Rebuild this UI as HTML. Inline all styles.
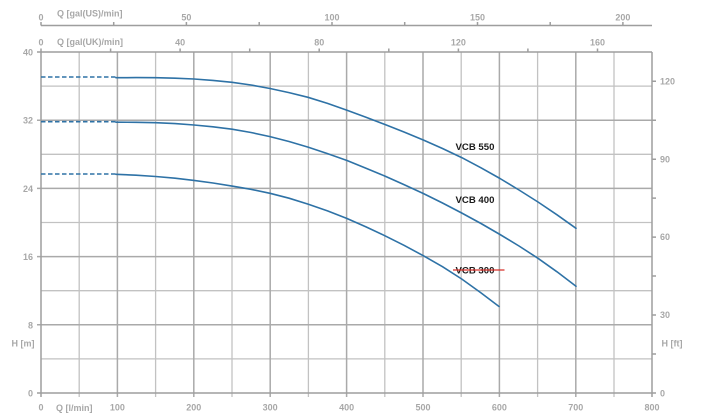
<!DOCTYPE html>
<html><head><meta charset="utf-8"><style>
html,body{margin:0;padding:0;background:#fff;}
svg{display:block;}
text{font-family:"Liberation Sans",Arial,sans-serif;}
.ax{fill:#a8a8a8;font-size:9px;font-weight:bold;}
.lbl{fill:#1a1a1a;font-size:9.6px;font-weight:bold;}
</style></head><body>
<svg width="704" height="420" viewBox="0 0 704 420" xmlns="http://www.w3.org/2000/svg">
<rect width="704" height="420" fill="#fff"/>
<!-- minor grid -->
<g stroke="#c2c2c2" stroke-width="1.3" fill="none">
<path d="M79.2 52V397 M155.6 52V397 M232 52V397 M308.4 52V397 M384.8 52V397 M461.2 52V397 M537.6 52V397 M614 52V397"/>
<path d="M41 358.9H652 M41 290.7H652 M41 222.5H652 M41 154.3H652 M41 86.1H652"/>
</g>
<!-- major grid -->
<g stroke="#aaaaaa" stroke-width="1.5" fill="none">
<path d="M117.4 52V397 M193.8 52V397 M270.2 52V397 M346.6 52V397 M423 52V397 M499.4 52V397 M575.8 52V397"/>
<path d="M37 324.8H652 M37 256.6H652 M37 188.4H652 M37 120.2H652"/>
</g>
<!-- frame -->
<g stroke="#9e9e9e" stroke-width="1.5" fill="none">
<path d="M41 52V397 M37 393H652 M37 52H652 M652 52V397 M37 393H41"/>
<path d="M652 354H656 M652 315H656 M652 276H656 M652 237.1H656 M652 198.1H656 M652 159.2H656 M652 120.2H656 M652 81.2H656 M652 393H656"/>
<path d="M110.6 48.5V52 M180.1 48.5V52 M249.7 48.5V52 M319.2 48.5V52 M388.8 48.5V52 M458.4 48.5V52 M527.9 48.5V52 M597.5 48.5V52 M41 48.5V52"/>
<path d="M41 25.5H652 M41 22V25.5 M113.7 22V25.5 M186.4 22V25.5 M259.2 22V25.5 M332 22V25.5 M404.7 22V25.5 M477.5 22V25.5 M550.2 22V25.5 M622.9 22V25.5"/>
</g>
<g class="ax" text-anchor="middle">
<text x="41" y="20.5">0</text>
<text x="186.4" y="20.5">50</text>
<text x="332" y="20.5">100</text>
<text x="477.5" y="20.5">150</text>
<text x="622.9" y="20.5">200</text>
<text x="41" y="45.5">0</text>
<text x="180.1" y="45.5">40</text>
<text x="319.2" y="45.5">80</text>
<text x="458.4" y="45.5">120</text>
<text x="597.5" y="45.5">160</text>
<text x="41" y="410.5">0</text>
<text x="117.4" y="410.5">100</text>
<text x="193.8" y="410.5">200</text>
<text x="270.2" y="410.5">300</text>
<text x="346.6" y="410.5">400</text>
<text x="423" y="410.5">500</text>
<text x="499.4" y="410.5">600</text>
<text x="575.8" y="410.5">700</text>
<text x="652" y="410.5">800</text>
</g>
<g class="ax">
<text x="57" y="16.5">Q [gal(US)/min]</text>
<text x="57" y="45">Q [gal(UK)/min]</text>
<text x="56" y="411">Q [l/min]</text>
<text x="11.5" y="346.5">H [m]</text>
<text x="661.5" y="346.5">H [ft]</text>
</g>
<g class="ax" text-anchor="end">
<text x="33" y="55.5">40</text>
<text x="33" y="123.7">32</text>
<text x="33" y="191.9">24</text>
<text x="33" y="260.1">16</text>
<text x="33" y="328.3">8</text>
<text x="33" y="396.5">0</text>
</g>
<g class="ax">
<text x="660" y="84.3">120</text>
<text x="660" y="162.3">90</text>
<text x="660" y="240.2">60</text>
<text x="660" y="318.1">30</text>
<text x="660" y="396.5">0</text>
</g>
<g stroke="#2e72a6" stroke-width="1.6" fill="none" stroke-linejoin="round" stroke-linecap="round">
<path d="M41 77H116" stroke-dasharray="4.5 2.5" stroke-linecap="butt"/>
<path d="M41 121.7H116" stroke-dasharray="4.5 2.5" stroke-linecap="butt"/>
<path d="M41 174H116" stroke-dasharray="4.5 2.5" stroke-linecap="butt"/>
<polyline points="116,77.7 136,77.6 155.7,77.7 175,78.2 194,79 213,80.4 232,82.3 251,85 270,88.5 289,92.6 308,97.3 327.5,103.4 347,110.3 366,117.2 385,124.5 404,132 423.3,140 442.5,148.5 461.7,157.6 481,167.8 500,178.5 519,190 538,202 557,214.8 576,228.3"/>
<polyline points="116,122.2 136,122.3 155.7,122.7 175,123.6 194,125 213,126.8 232,129.2 251,132.5 270,136.6 289,141.5 308,147.1 327.5,153.6 347,160.5 366,168.2 385,176.1 404,184.6 423.3,193.5 442.5,203 461.7,213 481,223.5 500,234.5 519,246 538,258.3 557,271.8 576,286.3"/>
<polyline points="116,174.3 136,175.2 155.7,176.5 175,178.2 194,180.4 213,183 232,186.1 251,189.3 270,193.3 289,198.2 308,204.1 327.5,210.9 346.7,218.4 366,226.9 385,235.8 404,245.3 423.3,255.7 442.5,266.7 461.7,279 481,292.9 499,306.5"/>
</g>
<g class="lbl">
<text x="455.5" y="150">VCB 550</text>
<text x="455.5" y="203">VCB 400</text>
<text x="455.5" y="273.3">VCB 300</text>
</g>
<path d="M453 270H504.5" stroke="#d8322a" stroke-width="1.2"/>
</svg>
</body></html>
